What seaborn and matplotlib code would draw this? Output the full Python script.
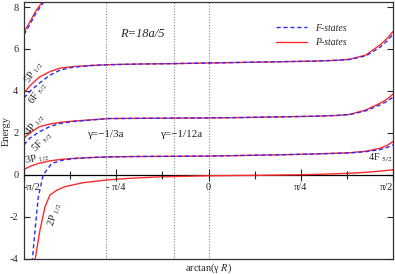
import numpy as np
import pandas as pd
import matplotlib
matplotlib.use('Agg')
import matplotlib.pyplot as plt
import seaborn as sns

# x is arctan(gamma R) in radians, E is energy
x_top_p = [-1.571, -1.540, -1.510, -1.477, -1.440, -1.405]
e_top_p = [6.80, 7.10, 7.40, 7.75, 8.05, 8.30]
x_top_f = [-1.571, -1.540, -1.510, -1.470, -1.430, -1.395]
e_top_f = [6.68, 6.98, 7.28, 7.70, 8.02, 8.30]

x_grid = [-1.571, -1.52, -1.44, -1.35, -1.26, -1.15, -1.0, -0.85, -0.6, -0.3,
          0.0, 0.3, 0.6, 0.9, 1.1, 1.204, 1.34, 1.46, 1.52, 1.571]
e_5p = [3.90, 4.25, 4.66, 4.92, 5.09, 5.16, 5.21, 5.25, 5.28, 5.30,
        5.33, 5.36, 5.39, 5.42, 5.46, 5.51, 5.71, 6.19, 6.50, 6.83]
e_6f = [3.66, 3.98, 4.37, 4.75, 5.00, 5.13, 5.21, 5.25, 5.28, 5.30,
        5.33, 5.36, 5.39, 5.42, 5.46, 5.50, 5.67, 6.08, 6.38, 6.70]
e_4p = [1.75, 2.00, 2.29, 2.42, 2.50, 2.56, 2.62, 2.68, 2.69, 2.70,
        2.71, 2.73, 2.76, 2.79, 2.83, 2.88, 3.09, 3.41, 3.60, 3.85]
e_5f = [1.42, 1.75, 2.05, 2.30, 2.45, 2.54, 2.61, 2.68, 2.69, 2.70,
        2.71, 2.73, 2.76, 2.79, 2.83, 2.87, 3.05, 3.33, 3.50, 3.70]
e_3p = [0.25, 0.40, 0.55, 0.66, 0.73, 0.78, 0.82, 0.85, 0.87, 0.88,
        0.89, 0.92, 0.95, 0.99, 1.03, 1.05, 1.12, 1.26, 1.40, 1.58]

x_4f = [-1.506, -1.500, -1.477, -1.449, -1.407, -1.335, -1.239, -1.12, -1.0, -0.85,
        -0.6, -0.3, 0.0, 0.3, 0.6, 0.9, 1.1, 1.204, 1.34, 1.46, 1.52, 1.571]
e_4f = [-4.5, -4.07, -2.65, -1.05, 0.0, 0.54, 0.70, 0.78, 0.82, 0.85,
        0.87, 0.88, 0.89, 0.92, 0.95, 0.99, 1.02, 1.04, 1.10, 1.20, 1.30, 1.42]

x_2p = [-1.483, -1.477, -1.435, -1.392, -1.350, -1.290, -1.222, -1.069, -0.864, -0.668,
        -0.413, 0.0, 0.4, 0.787, 1.0, 1.2, 1.35, 1.46, 1.571]
e_2p = [-4.6, -4.07, -2.65, -1.53, -0.97, -0.73, -0.57, -0.38, -0.25, -0.17,
        -0.10, -0.05, -0.03, 0.0, 0.03, 0.07, 0.12, 0.17, 0.24]

gammas = [-1/3, -1/12]  # in units of 1/a
R = 18 / 5

red = '#ff2a2a'
blue = '#2a2aff'

sns.set_style('white')
plt.rcParams['font.family'] = ['Liberation Serif', 'DejaVu Serif']
plt.rcParams['mathtext.fontset'] = 'stix'
plt.rcParams['font.size'] = 7.5

fig = plt.figure(figsize=(3.95, 2.74), dpi=100)
ax = fig.add_axes([24 / 395, 1 - 259 / 274, 369 / 395, 257 / 274])

# vertical reference lines
for g in gammas:
    ax.axvline(np.arctan(g * R), color='#888888', ls=(0, (1, 1.5)), lw=0.8)
ax.axvline(0, color='#888888', ls=(0, (1, 1.5)), lw=0.8)
ax.axhline(0, color='black', lw=0.9)

p_curves = [(x_top_p, e_top_p), (x_grid, e_5p), (x_grid, e_4p), (x_grid, e_3p), (x_2p, e_2p)]
f_curves = [(x_top_f, e_top_f), (x_grid, e_6f), (x_grid, e_5f), (x_4f, e_4f)]

for i, (xs, es) in enumerate(p_curves):
    sns.lineplot(x=xs, y=es, color=red, lw=1.0, sort=False, ax=ax,
                 label='P-states' if i == 0 else None)
for i, (xs, es) in enumerate(f_curves):
    sns.lineplot(x=xs, y=es, color=blue, lw=1.0, sort=False, ax=ax,
                 dashes=False, linestyle=(0, (3, 2)),
                 label='F-states' if i == 0 else None)

ax.set_xlim(-np.pi / 2, np.pi / 2)
ax.set_ylim(-4.02, 8.24)
ax.set_yticks([-4, -2, 0, 2, 4, 6, 8])
ax.set_yticklabels(['-4', '-2', '0', '2', '4', '6', '8'])
ax.set_xticks([])
ax.tick_params(axis='y', direction='in', length=4, width=0.8, left=True, right=True, pad=4)
for s in ax.spines.values():
    s.set_color('#333333')
    s.set_linewidth(0.9)

# x ticks on the zero axis
ax2 = ax.twiny()
ax2.set_xlim(-np.pi / 2, np.pi / 2)
for name, s in ax2.spines.items():
    s.set_visible(False)
ax2.spines['bottom'].set_position(('data', 0))
ax2.xaxis.set_ticks_position('bottom')
ax2.set_xticks([-np.pi / 2, -np.pi / 4, 0, np.pi / 4, np.pi / 2])
ax2.set_xticklabels(['-π/2', '- π/4', '0', 'π/4', 'π/2'])
ax2.set_xticks([-3 * np.pi / 8, -np.pi / 8, np.pi / 8, 3 * np.pi / 8], minor=True)
ax2.tick_params(axis='x', which='major', direction='inout', length=8, width=0.8, pad=2)
ax2.tick_params(axis='x', which='minor', direction='inout', length=6, width=0.8)
tl = ax2.get_xticklabels()
tl[0].set_ha('left')
tl[-1].set_ha('right')

ax.set_ylabel('Energy', va='center')
ax.yaxis.set_label_coords(-0.048, 0.5)
ax.set_xlabel('arctan(γ $R$)', va='center')
ax.xaxis.set_label_coords(0.5, -0.035)

ax.text(-0.566, 6.72, 'R=18a/5', style='italic', fontsize=9, ha='center', va='center')
ax.text(np.arctan(gammas[0] * R), 1.94, 'γ=−1/3a', fontsize=8, ha='center', va='center')
ax.text(-0.234, 1.94, 'γ=−1/12a', fontsize=8, ha='center', va='center')

ax.text(-1.486, 4.9, r'5P $_{1/2}$', rotation=55, ha='center', va='center', fontsize=7.5)
ax.text(-1.455, 3.9, r'6F $_{5/2}$', rotation=55, ha='center', va='center', fontsize=7.5)
ax.text(-1.477, 2.4, r'4P $_{1/2}$', rotation=50, ha='center', va='center', fontsize=7.5)
ax.text(-1.418, 1.56, r'5F $_{5/2}$', rotation=45, ha='center', va='center', fontsize=7.5)
ax.text(-1.455, 0.78, r'3P $_{1/2}$', rotation=10, ha='center', va='center', fontsize=7.5)
ax.text(-1.307, -1.88, r'2P $_{1/2}$', rotation=72, ha='center', va='center', fontsize=7.5)
ax.text(1.460, 0.8, r'4F $_{5/2}$', ha='center', va='center', fontsize=7.5)

handles, labels = ax.get_legend_handles_labels()
order = [labels.index('F-states'), labels.index('P-states')]
leg = ax.legend([handles[i] for i in order], [labels[i] for i in order],
                loc='upper left', bbox_to_anchor=(0.66, 0.95), frameon=False,
                handlelength=3.2, fontsize=7, labelspacing=0.6)
for t in leg.get_texts():
    t.set_fontstyle('italic')

fig.savefig('out.png', dpi=100)
